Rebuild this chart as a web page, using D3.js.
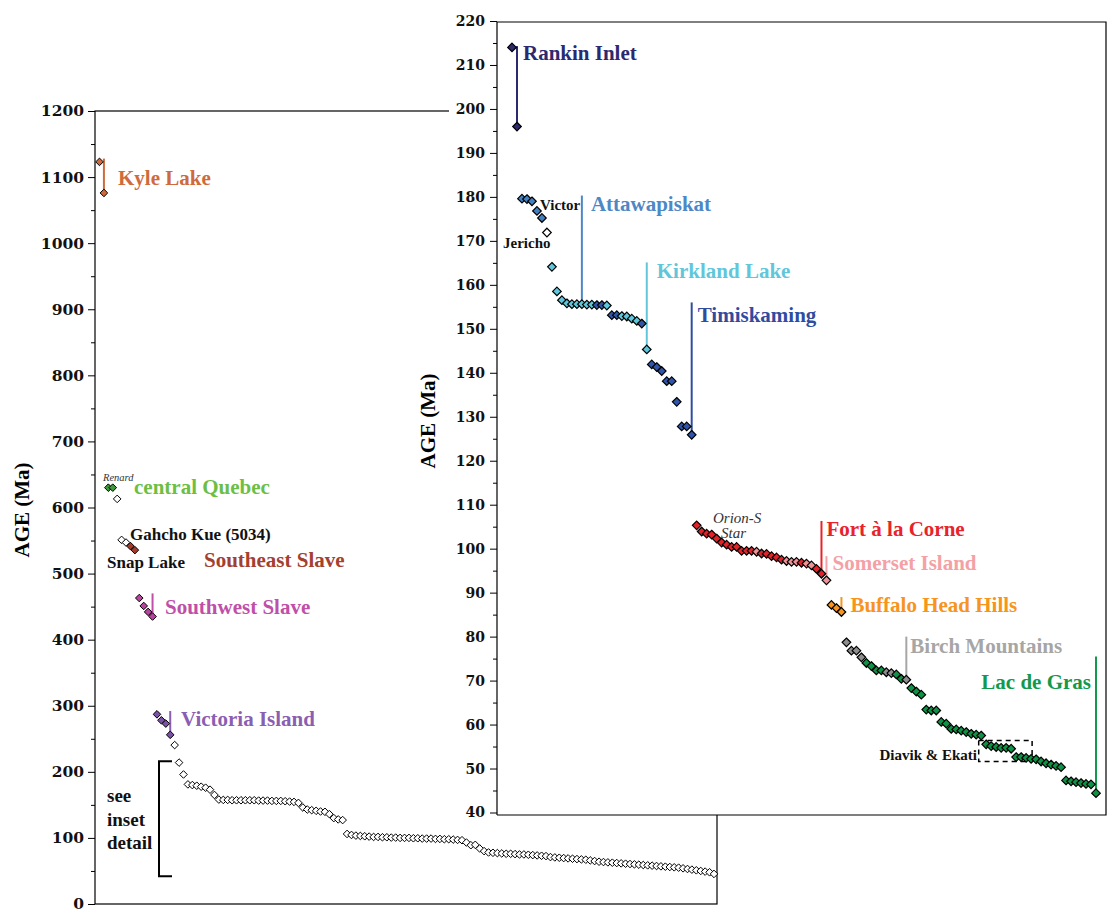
<!DOCTYPE html>
<html>
<head>
<meta charset="utf-8">
<script src="https://cdn.jsdelivr.net/npm/d3@7"></script>
<style>
	body{margin:0;background:#fff;}
	svg text{font-family:"Liberation Serif","Times New Roman",serif;font-weight:bold;}
	svg text.it{font-weight:normal;font-style:italic;}
	.tick text{font-family:"DejaVu Serif",serif;font-weight:bold;}
</style>
</head>
<body>
<div id="chart"></div>
<script>
// ages in Ma, main chart (all kimberlites, oldest first)
var mainAges = [1123, 1076, 630, 630, 613, 551, 547, 541.6, 535.5, 463, 451, 442, 435, 287, 278, 273, 256, 240.5,
	214, 196,
	181, 180, 179, 177.5, 176, 173,
	165, 158,
	157.5, 157.5, 157, 157, 157, 157, 157, 157, 156.5, 156.5, 156.5, 156, 156, 156, 155.5, 155, 154.5, 153,
	146, 143, 142, 141, 140, 139.5, 136, 130, 128, 127,
	106, 104.5, 103.5, 103, 102.5, 102, 101.5, 101.5, 101, 101, 100.5, 100.5, 100, 100, 100, 99.5, 99.5, 99, 99, 99, 98.5, 98.5, 98, 98, 97.5, 97, 96.5,
	93, 89, 89.5, 84,
	80, 78, 77.5, 77, 76.5, 76, 76, 75.5, 75, 75, 74.5, 74, 73.5, 73, 72.5,
	71, 70.5, 70, 69.5, 69, 68.5, 68, 67.5, 67, 66, 65,
	64, 63.5, 63, 62.5, 62, 61.5, 61, 60.5, 60, 59.5, 59, 58.5, 58, 57.5, 57, 56.5,
	56, 55.5, 55, 54, 53, 52, 51, 50, 49, 48,
	45.5];
var mainGroups = ['kyle', 'kyle', 'renard', 'renard', 'none', 'none', 'none', 'seslave', 'seslave',
	'swslave', 'swslave', 'swslave', 'swslave', 'victoria', 'victoria', 'victoria', 'victoria'];
var mainTicks = [0, 100, 200, 300, 400, 500, 600, 700, 800, 900, 1000, 1100, 1200];
var mainMinor = [50, 150, 250, 350, 450, 550, 650, 750, 850, 950, 1050, 1150];

// inset, kimberlites younger than 220 Ma
var insetAges = [214, 196,
	179.6, 179.5, 179.0, 176.8, 175.2,
	171.9,
	164.1, 158.5, 156.5,
	155.8, 155.6, 155.6, 155.6, 155.5, 155.5, 155.4, 155.4, 155.3,
	153.1, 153.1, 152.9, 152.8, 152.3, 151.8, 151.2,
	145.3,
	141.9, 141.3, 140.4, 138.1, 138.1, 133.4, 127.8, 127.8, 125.9,
	105.3, 103.9, 103.4, 103.2, 102.3, 101.4, 100.9, 100.4, 100.4, 99.5, 99.5, 99.5, 99.3, 98.9, 98.8, 98.3, 98.0, 97.5, 97.2, 97.0, 97.0, 96.8, 96.6, 96.2, 95.4, 94.3,
	92.8,
	87.2, 86.5, 85.6,
	78.7, 76.8, 76.8, 75.3, 74.0, 73.3, 72.3, 72.3, 71.9, 71.7, 71.4, 70.4, 70.2,
	68.3, 67.5, 66.8, 63.4, 63.2, 63.2, 60.6, 60.2, 59.0, 58.9, 58.6, 58.3, 57.9, 57.7, 57.5,
	55.5, 55.1, 54.9, 54.7, 54.7, 54.5, 52.6, 52.6, 52.4, 52.2, 52.1, 51.6, 51.2, 50.9, 50.6, 50.3,
	47.3, 47.1, 46.9, 46.7, 46.5, 46.4, 44.4];
var insetGroups = ['R', 'R',
	'A', 'A', 'A', 'A', 'A',
	'J',
	'K', 'K', 'K',
	'K', 'K', 'K', 'K', 'K', 'K', 'T', 'T', 'K',
	'T', 'T', 'K', 'K', 'K', 'K', 'T',
	'K',
	'T', 'T', 'T', 'T', 'T', 'T', 'T', 'T', 'T',
	'F', 'F', 'F', 'F', 'F', 'F', 'F', 'F', 'F', 'F', 'F', 'F', 'S', 'F', 'F', 'F', 'F', 'F', 'S', 'S', 'S', 'F', 'S', 'S', 'F', 'F',
	'S',
	'B', 'B', 'B',
	'M', 'M', 'M', 'M', 'L', 'L', 'L', 'L', 'M', 'M', 'L', 'L', 'M',
	'L', 'L', 'L', 'L', 'L', 'L', 'L', 'L', 'L', 'L', 'L', 'L', 'L', 'L', 'L',
	'L', 'L', 'L', 'L', 'L', 'L', 'L', 'L', 'L', 'L', 'L', 'L', 'L', 'L', 'L', 'L',
	'L', 'L', 'L', 'L', 'L', 'L', 'L'];
var insetTicks = [40, 50, 60, 70, 80, 90, 100, 110, 120, 130, 140, 150, 160, 170, 180, 190, 200, 210, 220];
var insetMinor = [45, 55, 65, 75, 85, 95, 105, 115, 125, 135, 145, 155, 165, 175, 185, 195, 205, 215];

var fills = {
	none : '#fff', kyle : '#cf6a3c', renard : '#3d9b37', seslave : '#a63a2c', swslave : '#b8459d', victoria : '#7b51a8',
	R : '#2a2a6c', A : '#4080c3', J : '#fff', K : '#5fc7db', T : '#2f55aa', F : '#e3232a', S : '#f19297',
	B : '#f7941d', M : '#8e8e8e', L : '#0e9246'
};

function diamond(r){
	return 'M0,' + (-r) + 'L' + r + ',0L0,' + r + 'L' + (-r) + ',0Z';
}

var svg = d3.select('#chart').append('svg').attr('width', 1107).attr('height', 914);

var mainChart = {
	x : d3.scaleLinear().domain([0, mainAges.length - 1]).range([99.5, 714]),
	y : d3.scaleLinear().domain([0, 1200]).range([904, 111]),
	g : null,
	init : function(){
		this.g = svg.append('g');
		this.drawAxis();
		this.drawNotes();
		this.drawPoints();
	},
	drawAxis : function(){
		var g = this.g, y = this.y;
		g.append('rect').attr('x', 95).attr('y', y(1200)).attr('width', 622).attr('height', y(0) - y(1200))
			.attr('fill', 'none').attr('stroke', '#000').attr('stroke-width', 1.2);
		var ax = g.append('g').attr('transform', 'translate(95,0)')
			.call(d3.axisLeft(y).tickValues(mainTicks).tickSize(7).tickPadding(4).tickFormat(d3.format('d')));
		ax.select('.domain').remove();
		ax.selectAll('text').attr('font-size', 15.5).attr('fill', '#111');
		var mn = g.append('g').attr('transform', 'translate(95,0)')
			.call(d3.axisLeft(y).tickValues(mainMinor).tickSize(4).tickFormat(''));
		mn.select('.domain').remove();
		g.append('text').attr('transform', 'translate(22,510) rotate(-90)').attr('text-anchor', 'middle')
			.attr('dominant-baseline', 'central').attr('font-size', 21).text('AGE (Ma)');
	},
	drawNotes : function(){
		var g = this.g, x = this.x, y = this.y;
		var lines = [
			{ i : 1, top : 1128, color : '#cf6a3c' },
			{ i : 12, top : 470, color : '#c04fa7' },
			{ i : 16, top : 292, color : '#8a5fb2' }
		];
		g.selectAll('line.note').data(lines).enter().append('line')
			.attr('x1', function(d){ return x(d.i); }).attr('x2', function(d){ return x(d.i); })
			.attr('y1', function(d){ return y(d.top); }).attr('y2', function(d){ return y(mainAges[d.i]); })
			.attr('stroke', function(d){ return d.color; }).attr('stroke-width', 2);

		var labels = [
			{ t : 'Kyle Lake', x : 118, y : 178, c : '#cf6a3c', s : 21 },
			{ t : 'central Quebec', x : 134, y : 487, c : '#6cbf44', s : 21 },
			{ t : 'Gahcho Kue (5034)', x : 130, y : 534, c : '#111', s : 17 },
			{ t : 'Snap Lake', x : 107, y : 562, c : '#111', s : 17 },
			{ t : 'Southeast Slave', x : 204, y : 560, c : '#a3402f', s : 21 },
			{ t : 'Southwest Slave', x : 165, y : 607, c : '#c04fa7', s : 21 },
			{ t : 'Victoria Island', x : 181, y : 719, c : '#8a5fb2', s : 21 },
			{ t : 'see', x : 107, y : 795, c : '#111', s : 19 },
			{ t : 'inset', x : 107, y : 819, c : '#111', s : 19 },
			{ t : 'detail', x : 107, y : 842, c : '#111', s : 19 }
		];
		g.selectAll('text.note').data(labels).enter().append('text')
			.attr('x', function(d){ return d.x; }).attr('y', function(d){ return d.y; })
			.attr('dominant-baseline', 'central').attr('font-size', function(d){ return d.s; })
			.attr('fill', function(d){ return d.c; }).text(function(d){ return d.t; });
		g.append('text').attr('class', 'it').attr('x', 103).attr('y', 481).attr('font-size', 10.5)
			.attr('fill', '#333').text('Renard');

		// bracket pointing at the inset range
		var b = [216, 42];
		g.append('path').attr('d', 'M172,' + y(b[0]) + 'H159V' + y(b[1]) + 'H172')
			.attr('fill', 'none').attr('stroke', '#000').attr('stroke-width', 2);
	},
	drawPoints : function(){
		var x = this.x, y = this.y;
		this.g.append('g').selectAll('path').data(mainAges).enter().append('path')
			.attr('d', diamond(3.8))
			.attr('transform', function(d, i){ return 'translate(' + x(i) + ',' + y(d) + ')'; })
			.attr('fill', function(d, i){ return fills[mainGroups[i] || 'none']; })
			.attr('stroke', '#000').attr('stroke-width', 1);
	}
};

var inset = {
	x : d3.scaleLinear().domain([0, insetAges.length - 1]).range([512, 1096]),
	y : d3.scaleLinear().domain([40, 220]).range([812.5, 21]),
	g : null,
	init : function(){
		this.g = svg.append('g');
		this.drawAxis();
		this.drawNotes();
		this.drawPoints();
	},
	drawAxis : function(){
		var g = this.g, y = this.y;
		g.append('rect').attr('x', 449).attr('y', 0).attr('width', 660).attr('height', 815).attr('fill', '#fff');
		g.append('path').attr('d', 'M497,815V22H1106V815H497')
			.attr('fill', 'none').attr('stroke', '#000').attr('stroke-width', 1.2);
		var ax = g.append('g').attr('transform', 'translate(497,0)')
			.call(d3.axisLeft(y).tickValues(insetTicks).tickSize(7).tickPadding(5).tickFormat(d3.format('d')));
		ax.select('.domain').remove();
		ax.selectAll('text').attr('font-size', 14).attr('fill', '#111');
		var mn = g.append('g').attr('transform', 'translate(497,0)')
			.call(d3.axisLeft(y).tickValues(insetMinor).tickSize(4).tickFormat(''));
		mn.select('.domain').remove();
		g.append('text').attr('transform', 'translate(428,421) rotate(-90)').attr('text-anchor', 'middle')
			.attr('dominant-baseline', 'central').attr('font-size', 21).text('AGE (Ma)');
	},
	drawNotes : function(){
		var g = this.g, x = this.x, y = this.y;
		var notes = [
			{ t : 'Rankin Inlet', i : 1, top : 214.3, c : '#2b2a70', dx : 6, dy : 7 },
			{ t : 'Attawapiskat', i : 14, top : 180.3, c : '#4d88c6', dx : 9, dy : 8 },
			{ t : 'Kirkland Lake', i : 27, top : 165.1, c : '#62c6da', dx : 10, dy : 9 },
			{ t : 'Timiskaming', i : 36, top : 156, c : '#2f4c9f', dx : 6, dy : 13 },
			{ t : 'Fort à la Corne', i : 62, top : 106.3, c : '#e9232b', dx : 5, dy : 8 },
			{ t : 'Somerset Island', i : 63, top : 98.3, c : '#f4a1a5', dx : 6, dy : 7 },
			{ t : 'Buffalo Head Hills', i : 66, top : 89, c : '#f7941d', dx : 9, dy : 8 },
			{ t : 'Birch Mountains', i : 79, top : 80, c : '#a6a6a6', dx : 4, dy : 9 },
			{ t : 'Lac de Gras', i : 117, top : 75.5, c : '#13994b', dx : -5, dy : 26, end : true }
		];
		g.selectAll('line.note').data(notes).enter().append('line')
			.attr('x1', function(d){ return x(d.i); }).attr('x2', function(d){ return x(d.i); })
			.attr('y1', function(d){ return y(d.top); }).attr('y2', function(d){ return y(insetAges[d.i]); })
			.attr('stroke', function(d){ return d.c; }).attr('stroke-width', 2);
		g.selectAll('text.note').data(notes).enter().append('text')
			.attr('x', function(d){ return x(d.i) + d.dx; }).attr('y', function(d){ return y(d.top) + d.dy; })
			.attr('text-anchor', function(d){ return d.end ? 'end' : 'start'; })
			.attr('dominant-baseline', 'central').attr('font-size', 21)
			.attr('fill', function(d){ return d.c; }).text(function(d){ return d.t; });

		var small = [
			{ t : 'Victor', x : 540, y : 205 },
			{ t : 'Jericho', x : 503, y : 243 },
			{ t : 'Diavik & Ekati', x : 977, y : 755, end : true }
		];
		g.selectAll('text.small').data(small).enter().append('text')
			.attr('x', function(d){ return d.x; }).attr('y', function(d){ return d.y; })
			.attr('text-anchor', function(d){ return d.end ? 'end' : 'start'; })
			.attr('dominant-baseline', 'central').attr('font-size', 15).attr('fill', '#111')
			.text(function(d){ return d.t; });
		g.append('text').attr('class', 'it').attr('x', 713).attr('y', 518).attr('dominant-baseline', 'central')
			.attr('font-size', 15).attr('fill', '#333').text('Orion-S');
		g.append('text').attr('class', 'it').attr('x', 721).attr('y', 533).attr('dominant-baseline', 'central')
			.attr('font-size', 15).attr('fill', '#333').text('Star');

		// Diavik & Ekati dashed box
		g.append('rect').attr('x', x(93.5)).attr('y', y(56.4))
			.attr('width', x(104.2) - x(93.5)).attr('height', y(51.6) - y(56.4))
			.attr('fill', 'none').attr('stroke', '#000').attr('stroke-width', 1.5).attr('stroke-dasharray', '5,4');
	},
	drawPoints : function(){
		var x = this.x, y = this.y;
		this.g.append('g').selectAll('path').data(insetAges).enter().append('path')
			.attr('d', diamond(4.3))
			.attr('transform', function(d, i){ return 'translate(' + x(i) + ',' + y(d) + ')'; })
			.attr('fill', function(d, i){ return fills[insetGroups[i]]; })
			.attr('stroke', '#000').attr('stroke-width', 1.2);
	}
};

mainChart.init();
inset.init();
</script>
</body>
</html>
